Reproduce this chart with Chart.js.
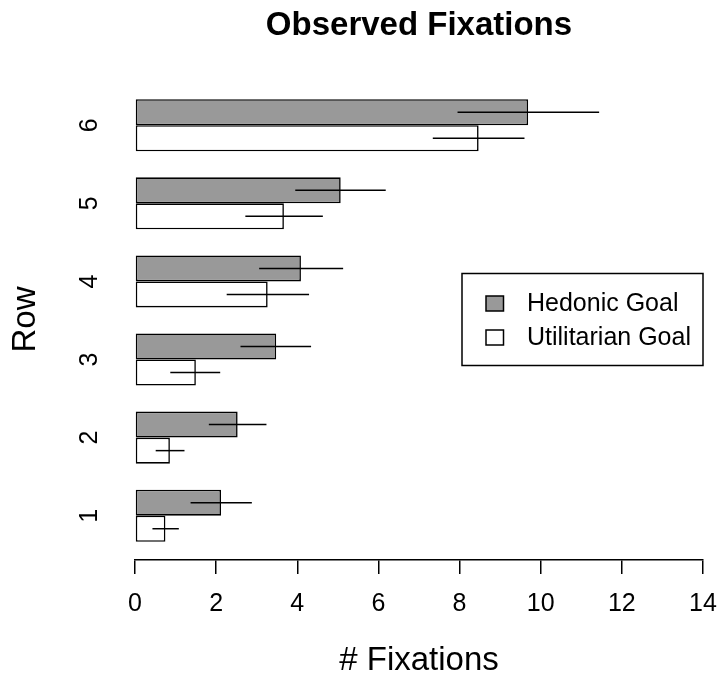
<!DOCTYPE html>
<html>
<head>
<meta charset="utf-8">
<script src="https://cdn.jsdelivr.net/npm/chart.js@4/dist/chart.umd.min.js"></script>
<style>
    html, body { margin: 0; padding: 0; background: #ffffff; }
    #wrap { width: 720px; height: 681px; position: relative; }
</style>
</head>
<body>
<div id="wrap"><canvas id="fixations"></canvas></div>
<script>
// rows of the display, bottom to top
var rows = ['1', '2', '3', '4', '5', '6'];
var seriesNames = ['Hedonic Goal', 'Utilitarian Goal'];

var hedonicMeans = [2.12, 2.53, 3.48, 4.09, 5.07, 9.69];
var hedonicLow = [1.37, 1.82, 2.60, 3.06, 3.95, 7.95];
var hedonicHigh = [2.88, 3.24, 4.34, 5.13, 6.18, 11.44];

var utilMeans = [0.75, 0.86, 1.50, 3.27, 3.67, 8.47];
var utilLow = [0.43, 0.51, 0.87, 2.26, 2.72, 7.34];
var utilHigh = [1.08, 1.22, 2.10, 4.29, 4.63, 9.60];

var FONT = "'Liberation Sans', Arial, Helvetica, sans-serif";

function toPoints(values) {
    return values.map(function (v, i) {
        return {x: v, y: i + 1};
    });
}

// horizontal error bars, no caps
var errorBars = {
    id: 'errorBars',
    afterDatasetsDraw: function (chart) {
        var ctx = chart.ctx;
        var xScale = chart.scales.x;
        var ranges = [[hedonicLow, hedonicHigh], [utilLow, utilHigh]];
        ctx.save();
        ctx.strokeStyle = '#000000';
        ctx.lineWidth = 1.5;
        ranges.forEach(function (r, d) {
            var meta = chart.getDatasetMeta(d);
            meta.data.forEach(function (bar, i) {
                ctx.beginPath();
                ctx.moveTo(xScale.getPixelForValue(r[0][i]), bar.y);
                ctx.lineTo(xScale.getPixelForValue(r[1][i]), bar.y);
                ctx.stroke();
            });
        });
        ctx.restore();
    }
};

// boxed legend at the right edge, centred on the plot
var boxLegend = {
    id: 'boxLegend',
    afterDraw: function (chart) {
        var ctx = chart.ctx;
        var area = chart.chartArea;
        var w = 241, h = 92;
        var left = area.right - w;
        var top = (area.top + area.bottom) / 2 - h / 2;
        ctx.save();
        ctx.fillStyle = '#ffffff';
        ctx.fillRect(left, top, w, h);
        ctx.strokeStyle = '#000000';
        ctx.lineWidth = 1.5;
        ctx.strokeRect(left, top, w, h);
        ctx.font = '25px ' + FONT;
        ctx.textBaseline = 'middle';
        chart.data.datasets.forEach(function (ds, i) {
            var cy = top + 30 + i * 34;
            ctx.fillStyle = ds.backgroundColor;
            ctx.fillRect(left + 24, cy - 7.5, 17.5, 15);
            ctx.strokeRect(left + 24, cy - 7.5, 17.5, 15);
            ctx.fillStyle = '#000000';
            ctx.fillText(ds.label, left + 65, cy + 1);
        });
        ctx.restore();
    }
};

var config = {
    type: 'bar',
    data: {
        datasets: [{
            label: seriesNames[0],
            data: toPoints(hedonicMeans),
            backgroundColor: '#999999',
            borderColor: '#000000',
            borderWidth: 1.6,
            borderSkipped: false
        }, {
            label: seriesNames[1],
            data: toPoints(utilMeans),
            backgroundColor: '#ffffff',
            borderColor: '#000000',
            borderWidth: 1.6,
            borderSkipped: false
        }]
    },
    options: {
        indexAxis: 'y',
        responsive: true,
        maintainAspectRatio: false,
        animation: false,
        categoryPercentage: 0.666,
        barPercentage: 1,
        layout: {
            padding: {left: 0, right: 17, top: 0, bottom: 0}
        },
        plugins: {
            legend: {display: false},
            tooltip: {enabled: false},
            title: {
                display: true,
                text: 'Observed Fixations',
                fullSize: false,
                color: '#000000',
                font: {family: FONT, size: 33, weight: 'bold'},
                padding: {top: 6, bottom: 33.4}
            }
        },
        scales: {
            x: {
                type: 'linear',
                min: 0,
                max: 14,
                ticks: {
                    stepSize: 2,
                    color: '#000000',
                    padding: 15,
                    font: {family: FONT, size: 25}
                },
                grid: {
                    drawOnChartArea: false,
                    drawTicks: true,
                    tickLength: 14,
                    color: '#000000',
                    lineWidth: 1.5
                },
                border: {display: true, color: '#000000', width: 1.5},
                title: {
                    display: true,
                    text: '# Fixations',
                    color: '#000000',
                    font: {family: FONT, size: 33},
                    padding: {top: 0, bottom: 0}
                },
                afterFit: function (scale) {
                    scale.height = 121;
                    // the "14" label may overhang into the right margin
                    scale.paddingLeft = 0;
                    scale.paddingRight = 0;
                }
            },
            y: {
                type: 'linear',
                offset: false,
                min: 0.433,
                max: 6.592,
                afterBuildTicks: function (scale) {
                    scale.ticks = rows.map(function (r, i) {
                        return {value: i + 1};
                    });
                },
                ticks: {
                    color: '#000000',
                    minRotation: 90,
                    maxRotation: 90,
                    crossAlign: 'center',
                    padding: 30,
                    font: {family: FONT, size: 25},
                    callback: function (value) {
                        return rows[value - 1];
                    }
                },
                grid: {display: false},
                border: {display: false},
                title: {
                    display: true,
                    text: 'Row',
                    color: '#000000',
                    font: {family: FONT, size: 33},
                    padding: {top: 6, bottom: 0}
                },
                afterFit: function (scale) {
                    scale.width = 135;
                    scale.paddingTop = 0;
                    scale.paddingBottom = 0;
                }
            }
        }
    },
    plugins: [errorBars, boxLegend]
};

new Chart(document.getElementById('fixations'), config);
</script>
</body>
</html>
